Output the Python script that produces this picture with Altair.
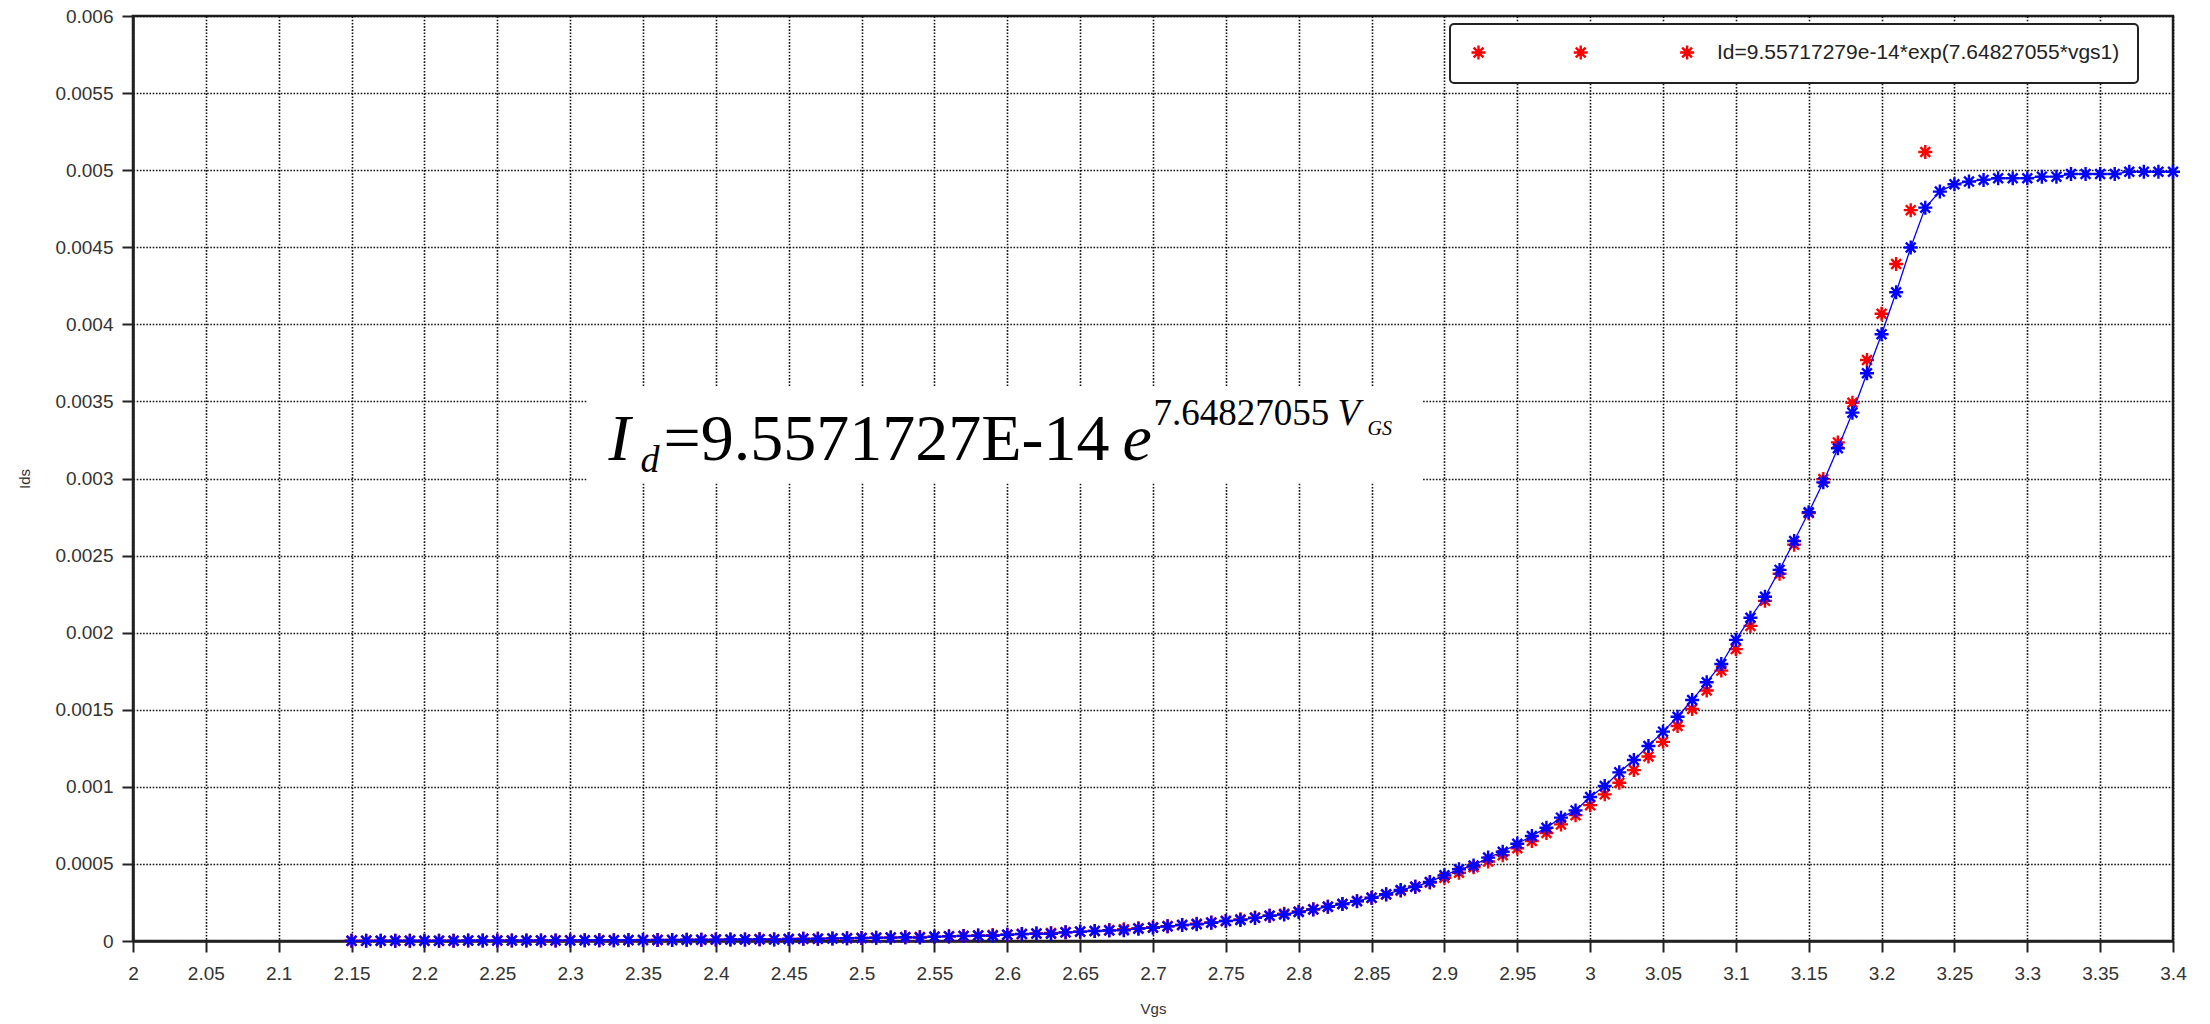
import altair as alt
import pandas as pd

# Gate-source sweep (V)
vgs = [2.15, 2.16, 2.17, 2.18, 2.19,
       2.20, 2.21, 2.22, 2.23, 2.24, 2.25, 2.26, 2.27, 2.28, 2.29,
       2.30, 2.31, 2.32, 2.33, 2.34, 2.35, 2.36, 2.37, 2.38, 2.39,
       2.40, 2.41, 2.42, 2.43, 2.44, 2.45, 2.46, 2.47, 2.48, 2.49,
       2.50, 2.51, 2.52, 2.53, 2.54, 2.55, 2.56, 2.57, 2.58, 2.59,
       2.60, 2.61, 2.62, 2.63, 2.64, 2.65, 2.66, 2.67, 2.68, 2.69,
       2.70, 2.71, 2.72, 2.73, 2.74, 2.75, 2.76, 2.77, 2.78, 2.79,
       2.80, 2.81, 2.82, 2.83, 2.84, 2.85, 2.86, 2.87, 2.88, 2.89,
       2.90, 2.91, 2.92, 2.93, 2.94, 2.95, 2.96, 2.97, 2.98, 2.99,
       3.00, 3.01, 3.02, 3.03, 3.04, 3.05, 3.06, 3.07, 3.08, 3.09,
       3.10, 3.11, 3.12, 3.13, 3.14, 3.15, 3.16, 3.17, 3.18, 3.19,
       3.20, 3.21, 3.22, 3.23, 3.24, 3.25, 3.26, 3.27, 3.28, 3.29,
       3.30, 3.31, 3.32, 3.33, 3.34, 3.35, 3.36, 3.37, 3.38, 3.39,
       3.40]

# Measured drain current (uA)
ids_measured_ua = [1, 1, 2, 2, 2,
                   2, 2, 2, 3, 3, 3, 3, 3, 4, 4,
                   4, 5, 5, 5, 6, 6, 7, 7, 8, 8,
                   9, 10, 10, 11, 9, 13, 14, 15, 17, 18,
                   19, 21, 22, 24, 22, 28, 30, 33, 35, 34,
                   41, 45, 48, 47, 56, 61, 65, 68, 70, 80,
                   86, 95, 104, 108, 118, 130, 136, 150, 164, 172,
                   188, 205, 222, 240, 258, 281, 303, 331, 352, 383,
                   426, 465, 490, 541, 579, 631, 681, 735, 800, 847,
                   934, 1005, 1094, 1174, 1265, 1358, 1455, 1563, 1678, 1797,
                   1953, 2097, 2233, 2407, 2595, 2781, 2975, 3196, 3427, 3683,
                   3936, 4208, 4498, 4757, 4861, 4909, 4926, 4937, 4948, 4948,
                   4948, 4958, 4958, 4975, 4975, 4975, 4975, 4990, 4990, 4990,
                   4990]

# Exponential fit evaluated on the sweep up to 3.23 V (A)
ids_fit = [1.3236e-6, 1.4288e-6, 1.5424e-6, 1.6650e-6, 1.7973e-6,
           1.9402e-6, 2.0944e-6, 2.2609e-6, 2.4406e-6, 2.6346e-6, 2.8440e-6, 3.0700e-6, 3.3140e-6, 3.5774e-6, 3.8617e-6,
           4.1687e-6, 4.5000e-6, 4.8577e-6, 5.2438e-6, 5.6605e-6, 6.1104e-6, 6.5961e-6, 7.1203e-6, 7.6863e-6, 8.2972e-6,
           8.9569e-6, 9.6688e-6, 1.0437e-5, 1.1267e-5, 1.2162e-5, 1.3129e-5, 1.4172e-5, 1.5299e-5, 1.6515e-5, 1.7827e-5,
           1.9245e-5, 2.0774e-5, 2.2426e-5, 2.4208e-5, 2.6132e-5, 2.8209e-5, 3.0451e-5, 3.2871e-5, 3.5484e-5, 3.8304e-5,
           4.1350e-5, 4.4636e-5, 4.8184e-5, 5.2014e-5, 5.6148e-5, 6.0610e-5, 6.5427e-5, 7.0627e-5, 7.6241e-5, 8.2300e-5,
           8.8844e-5, 9.5905e-5, 1.0353e-4, 1.1176e-4, 1.2064e-4, 1.3023e-4, 1.4058e-4, 1.5175e-4, 1.6381e-4, 1.7683e-4,
           1.9089e-4, 2.0606e-4, 2.2244e-4, 2.4012e-4, 2.5920e-4, 2.7981e-4, 3.0204e-4, 3.2605e-4, 3.5197e-4, 3.7994e-4,
           4.1015e-4, 4.4275e-4, 4.7794e-4, 5.1593e-4, 5.5693e-4, 6.0120e-4, 6.4898e-4, 7.0056e-4, 7.5624e-4, 8.1635e-4,
           8.8124e-4, 9.5128e-4, 1.0269e-3, 1.1085e-3, 1.1966e-3, 1.2917e-3, 1.3944e-3, 1.5052e-3, 1.6249e-3, 1.7540e-3,
           1.8934e-3, 2.0439e-3, 2.2064e-3, 2.3817e-3, 2.5710e-3, 2.7754e-3, 2.9960e-3, 3.2341e-3, 3.4911e-3, 3.7686e-3,
           4.0682e-3, 4.3915e-3, 4.7406e-3, 5.1174e-3]

fit_label = "Id=9.55717279e-14*exp(7.64827055*vgs1)"

x_ticks = [2, 2.05, 2.1, 2.15, 2.2, 2.25, 2.3, 2.35, 2.4, 2.45, 2.5, 2.55, 2.6, 2.65,
           2.7, 2.75, 2.8, 2.85, 2.9, 2.95, 3, 3.05, 3.1, 3.15, 3.2, 3.25, 3.3, 3.35, 3.4]
y_ticks = [0, 0.0005, 0.001, 0.0015, 0.002, 0.0025, 0.003, 0.0035, 0.004, 0.0045,
           0.005, 0.0055, 0.006]

# Equation box placement (data units) and its anchor for the text pieces
eq_box = {"Vgs": 2.3115, "Vgs2": 2.8846, "Ids": 0.0036, "Ids2": 0.00297}
eq_anchor = {"Vgs": 2.325, "Ids": 0.00312}

measured = pd.DataFrame({"Vgs": vgs, "Ids": [v / 1e6 for v in ids_measured_ua]})
fitted = pd.DataFrame({"Vgs": vgs[:len(ids_fit)], "Ids": ids_fit,
                       "series": [fit_label] * len(ids_fit)})
box_df = pd.DataFrame({k: [v] for k, v in eq_box.items()})
anchor_df = pd.DataFrame({k: [v] for k, v in eq_anchor.items()})

# Asterisk marker (8 spokes), plus a three-marker version for the legend entry
STAR = "M0,-1L0,1M-1,0L1,0M-0.7,-0.7L0.7,0.7M-0.7,0.7L0.7,-0.7"


def star_at(c):
    return (f"M{c},-1L{c},1M{c - 1},0L{c + 1},0"
            f"M{c - 0.7},-0.7L{c + 0.7},0.7M{c - 0.7},0.7L{c + 0.7},-0.7")


LEGEND_STARS = "".join(star_at(c) for c in (0, 14.6, 29.8))
MARK_SIZE = 196

x_scale = alt.Scale(domain=[2, 3.4], nice=False, zero=False)
y_scale = alt.Scale(domain=[0, 0.006], nice=False, zero=False)
x_axis = alt.Axis(values=x_ticks, format="~g", title="Vgs")
y_axis = alt.Axis(values=y_ticks, format="~g", title="Ids")


def X(field="Vgs"):
    return alt.X(f"{field}:Q", scale=x_scale, axis=x_axis, title="Vgs")


def Y(field="Ids"):
    return alt.Y(f"{field}:Q", scale=y_scale, axis=y_axis, title="Ids")


fit_points = alt.Chart(fitted).mark_point(
    shape=STAR, filled=False, size=MARK_SIZE, strokeWidth=2.4, opacity=1
).encode(
    x=X(), y=Y(),
    color=alt.Color(
        "series:N",
        scale=alt.Scale(domain=[fit_label], range=["#ff0000"]),
        legend=alt.Legend(
            title=None, orient="none", legendX=1317, legendY=8,
            padding=18, cornerRadius=4, fillColor="white", strokeColor="#222",
            symbolType=LEGEND_STARS, symbolSize=MARK_SIZE, symbolStrokeWidth=2.4,
            symbolStrokeColor="#ff0000", symbolFillColor="transparent",
            labelOffset=228, labelLimit=1000, labelFontSize=21,
            labelFont="Liberation Sans", labelColor="#222",
            labelExpr="datum.label + '\u00a0\u00a0\u00a0\u00a0\u00a0\u00a0'",
        ),
    ),
)

meas_line = alt.Chart(measured).mark_line(color="#0000ff", strokeWidth=1.3).encode(
    x=X(), y=Y()
)
meas_points = alt.Chart(measured).mark_point(
    shape=STAR, filled=False, size=MARK_SIZE, strokeWidth=2.4, opacity=1, color="#0000ff"
).encode(x=X(), y=Y())

eq_bg = alt.Chart(box_df).mark_rect(color="white", opacity=1).encode(
    x=X(), x2=alt.X2("Vgs2:Q", title="Vgs"),
    y=Y(), y2=alt.Y2("Ids2:Q", title="Ids"),
)


def eq_text(text, size, dx, dy, italic=False):
    return alt.Chart(anchor_df).mark_text(
        text=text, font="Liberation Serif", fontSize=size,
        fontStyle="italic" if italic else "normal",
        align="left", baseline="alphabetic", dx=dx, dy=dy, color="black",
    ).encode(x=X(), y=Y())


equation = [
    eq_text("I", 66, 2, 0, italic=True),
    eq_text("d", 38, 34, 12, italic=True),
    eq_text("=9.5571727E-14", 66, 57, 0),
    eq_text("e", 66, 516, 0, italic=True),
    eq_text("7.64827055", 37, 547, -35),
    eq_text("V", 37, 731, -35, italic=True),
    eq_text("GS", 20, 761, -25, italic=True),
]

chart = alt.layer(
    fit_points, meas_line, meas_points, eq_bg, *equation
).properties(
    width=2040, height=925,
    autosize=alt.AutoSizeParams(type="none"),
    padding={"left": 133, "top": 16, "right": 37, "bottom": 83},
    background="white",
).configure_view(
    stroke="#222", strokeWidth=2.5,
).configure_axis(
    domainColor="#222", domainWidth=2.5,
    tickColor="#222", tickWidth=2, tickSize=11,
    labelFont="Liberation Sans", labelFontSize=19, labelColor="#333", labelPadding=9,
    titleFont="Liberation Sans", titleFontSize=15, titleFontWeight="normal", titleColor="#333",
    grid=True, gridColor="#111", gridDash=[1.6, 1.6], gridWidth=1.6, gridOpacity=1,
).configure_axisX(
    labelPadding=12, titlePadding=18, labelFlush=False,
).configure_axisY(
    titlePadding=22, labelFlush=False,
).configure_legend(
    strokeWidth=2,
)

chart.save("out.html", embed_options={"renderer": "svg", "actions": False})
